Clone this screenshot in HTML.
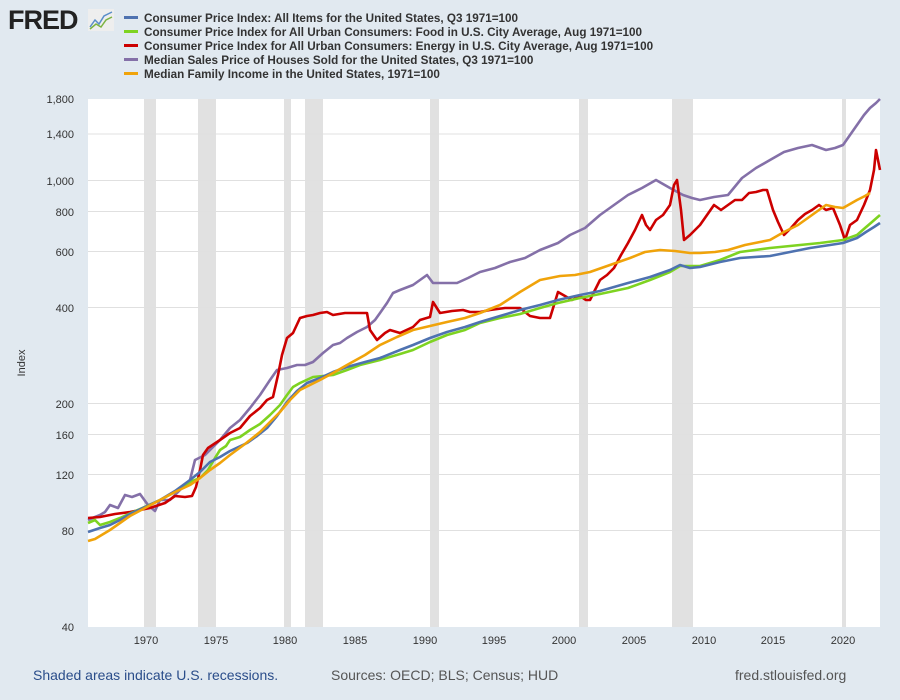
<!DOCTYPE html>
<html><head><meta charset="utf-8"><style>
body{margin:0;width:900px;height:700px;background:#e1e9f0;font-family:"Liberation Sans",sans-serif;overflow:hidden;position:relative}
.lg{position:absolute;left:124px;font-size:11.7px;font-weight:bold;color:#333;white-space:nowrap}
.lg i{display:inline-block;width:14px;height:3px;vertical-align:middle;margin-right:6px;margin-top:-2px}
.ft{position:absolute;top:667px;font-size:14px}
</style></head><body>
<div style="position:absolute;left:8px;top:5px;font-size:27px;font-weight:bold;color:#222;letter-spacing:-1px">FRED</div>
<svg style="position:absolute;left:88px;top:9px" width="26" height="22"><rect width="26" height="22" fill="#eee"/><polyline points="2,18 7,11 11,15 16,7 24,3" fill="none" stroke="#5a8ec9" stroke-width="1.5"/><polyline points="2,20 8,15 13,18 18,11 24,8" fill="none" stroke="#7cb342" stroke-width="1.5"/></svg>
<div class="lg" style="top:12px"><i style="background:#4e72b0"></i>Consumer Price Index: All Items for the United States, Q3 1971=100</div>
<div class="lg" style="top:26px"><i style="background:#7ed321"></i>Consumer Price Index for All Urban Consumers: Food in U.S. City Average, Aug 1971=100</div>
<div class="lg" style="top:40px"><i style="background:#c00"></i>Consumer Price Index for All Urban Consumers: Energy in U.S. City Average, Aug 1971=100</div>
<div class="lg" style="top:54px"><i style="background:#8470a8"></i>Median Sales Price of Houses Sold for the United States, Q3 1971=100</div>
<div class="lg" style="top:68px"><i style="background:#f0a30a"></i>Median Family Income in the United States, 1971=100</div>
<svg style="position:absolute;left:0;top:0" width="900" height="700" font-family="Liberation Sans, sans-serif">
<rect x="88" y="99" width="792" height="528" fill="#fff"/>
<g fill="#e1e1e1">
<rect x="144" y="99" width="12" height="528"/><rect x="198" y="99" width="18" height="528"/><rect x="284" y="99" width="7" height="528"/><rect x="305" y="99" width="18" height="528"/><rect x="430" y="99" width="9" height="528"/><rect x="579" y="99" width="9" height="528"/><rect x="672" y="99" width="21" height="528"/><rect x="842" y="99" width="4" height="528"/>
</g>
<g stroke="#e0e0e0" stroke-width="1">
<line x1="88" x2="880" y1="134" y2="134"/><line x1="88" x2="880" y1="180.5" y2="180.5"/><line x1="88" x2="880" y1="211.5" y2="211.5"/><line x1="88" x2="880" y1="251.5" y2="251.5"/><line x1="88" x2="880" y1="307.5" y2="307.5"/><line x1="88" x2="880" y1="403.5" y2="403.5"/><line x1="88" x2="880" y1="434.5" y2="434.5"/><line x1="88" x2="880" y1="474.5" y2="474.5"/><line x1="88" x2="880" y1="530.5" y2="530.5"/>
</g>
<g font-size="11" fill="#333" text-anchor="end">
<text x="74" y="103">1,800</text><text x="74" y="138">1,400</text><text x="74" y="185">1,000</text><text x="74" y="216">800</text><text x="74" y="256">600</text><text x="74" y="312">400</text><text x="74" y="408">200</text><text x="74" y="439">160</text><text x="74" y="479">120</text><text x="74" y="535">80</text><text x="74" y="631">40</text>
</g>
<g font-size="11" fill="#333" text-anchor="middle">
<text x="146" y="644">1970</text><text x="216" y="644">1975</text><text x="285" y="644">1980</text><text x="355" y="644">1985</text><text x="425" y="644">1990</text><text x="494" y="644">1995</text><text x="564" y="644">2000</text><text x="634" y="644">2005</text><text x="704" y="644">2010</text><text x="773" y="644">2015</text><text x="843" y="644">2020</text>
</g>
<text x="25" y="363" font-size="11" fill="#333" transform="rotate(-90 25 363)" text-anchor="middle">Index</text>
<g fill="none" stroke-width="2.6" stroke-linejoin="round">
<polyline stroke="#8470a8" points="88,520 95,517 100,515 105,512 110,505 118,508 125,495 132,497 140,494 148,505 155,511 160,500 170,500 180,490 190,480 195,460 205,455 210,450 220,440 230,428 240,420 250,408 260,395 270,380 277,370 287,368 297,365 305,365 313,362 323,353 333,345 340,343 347,338 357,332 367,327 375,320 380,313 387,303 393,293 400,290 413,285 420,280 427,275 433,283 445,283 457,283 468,278 480,272 495,268 510,262 525,258 540,250 558,243 570,235 585,228 600,215 614,205 628,195 642,188 656,180 670,188 683,195 692,198 700,200 714,197 728,195 742,178 756,168 770,160 784,152 798,148 812,145 826,150 835,148 843,145 850,135 857,125 864,115 870,108 876,103 880,99"/>
<polyline stroke="#c00" points="88,518 100,517 115,514 130,512 150,508 165,503 175,496 185,497 192,496 196,487 200,470 203,455 208,448 220,440 230,433 240,428 250,416 260,408 267,400 273,397 278,375 282,355 287,338 293,333 300,318 307,316 313,315 320,313 327,312 333,315 345,313 355,313 367,313 370,330 377,340 385,333 390,330 400,333 413,327 420,320 430,317 433,302 440,313 452,311 463,310 470,312 480,312 490,310 505,308 520,308 530,316 540,318 550,318 558,292 565,296 572,300 580,296 586,300 590,300 596,288 600,280 607,275 614,268 621,255 628,243 635,230 642,215 646,225 650,230 656,220 663,215 670,205 674,185 677,180 681,210 684,240 690,235 700,225 707,215 714,205 721,210 728,205 735,200 742,200 749,193 756,192 763,190 767,190 770,200 773,210 778,222 784,235 791,228 798,220 805,214 812,210 819,205 826,210 833,208 840,225 845,240 850,225 857,220 864,205 870,190 874,170 876,150 878,160 880,170"/>
<polyline stroke="#7ed321" points="88,523 95,520 100,525 110,522 120,518 140,509 160,500 175,492 190,482 200,478 208,470 215,458 220,450 226,446 230,440 240,437 250,430 260,424 270,415 280,405 287,395 293,387 300,383 313,377 333,375 347,370 360,365 380,360 400,354 413,350 430,342 447,335 465,330 480,323 500,318 520,314 540,308 558,303 580,298 600,294 628,288 650,280 670,272 680,266 700,266 720,260 740,252 770,248 800,245 820,243 843,240 857,235 865,228 872,222 880,215"/>
<polyline stroke="#4e72b0" points="88,532 100,528 110,525 120,520 130,514 145,507 160,500 175,491 190,480 200,472 210,462 220,457 230,451 247,443 257,436 267,428 277,416 287,402 297,391 307,383 320,378 333,372 347,367 365,362 380,358 400,350 413,345 430,338 447,332 465,327 480,322 500,316 520,310 540,305 558,300 580,295 600,291 628,283 650,277 670,270 680,265 690,268 700,267 720,262 740,258 770,256 790,252 810,248 830,245 843,243 857,238 866,232 874,227 880,223"/>
<polyline stroke="#f0a30a" points="88,541 95,539 100,536 110,530 120,523 130,516 145,508 160,500 175,492 190,485 200,478 210,470 220,463 230,455 245,444 260,432 270,422 280,412 290,400 300,390 310,385 320,380 333,373 347,365 365,355 380,345 397,337 413,330 430,326 447,322 465,318 480,313 500,305 520,292 540,280 560,276 575,275 590,272 610,265 630,258 645,252 660,250 675,251 690,253 700,253 715,252 728,250 745,245 760,242 770,240 784,232 798,225 812,215 826,205 835,207 843,208 850,204 857,200 865,196 870,193"/>
</g>
</svg>
<div class="ft" style="left:33px;color:#2a4d8a">Shaded areas indicate U.S. recessions.</div>
<div class="ft" style="left:331px;color:#555">Sources: OECD; BLS; Census; HUD</div>
<div class="ft" style="left:735px;color:#555">fred.stlouisfed.org</div>
</body></html>
